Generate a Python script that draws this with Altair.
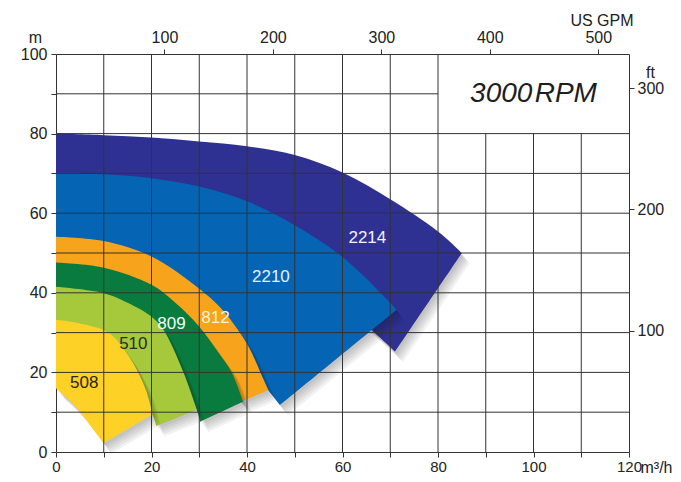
import altair as alt
import pandas as pd

# ---------------- data ----------------
series = ["2214", "2210", "812", "809", "510", "508"]          # back to front
colors = ["#2E3192", "#0565B4", "#F7A31B", "#0A7B3E", "#A6C83B", "#FDD126"]

# upper (max impeller) curves, left -> right end
q_2214_top = [0, 10, 20, 30, 40, 50, 60, 70, 80, 85]
h_2214_top = [80, 79.6, 79, 78, 76.8, 74.6, 70.2, 63.5, 55.4, 50]
q_2210_top = [0, 10, 20, 30, 40, 50, 60, 70, 71.3]
h_2210_top = [70, 69.8, 68.8, 66.7, 63, 57, 49, 37.5, 35.7]
q_812_top = [0, 10, 20, 30, 35, 40, 43, 44.5]
h_812_top = [54.1, 53, 49.1, 41, 35.5, 27.2, 19.5, 15.5]
q_809_top = [0, 10, 20, 25, 30, 34, 36.8, 39.2]
h_809_top = [47.6, 46.3, 42, 37.5, 31.5, 25, 20, 12.6]
q_510_top = [0, 10, 15, 20, 22.5, 26.7, 29.5]
h_510_top = [41.5, 39.9, 37.5, 34, 30.7, 20, 10.6]
q_508_top = [0, 5, 11, 14.7, 17.2, 19, 20.2]
h_508_top = [33.2, 32.3, 30, 25, 20, 15, 9.5]

# lower (min impeller) curves, end -> left
q_2214_low = [71, 66.5, 60, 50, 40, 30, 20, 10, 0]
h_2214_low = [25.2, 30.2, 37, 45, 52, 57, 60, 61.5, 62]
q_2210_low = [46.9, 44.6, 40, 35, 30, 20, 10, 0]
h_2210_low = [11.8, 15.3, 23, 30, 35, 42, 46, 47]
q_812_low = [38.8, 35, 28, 20, 10, 0]
h_812_low = [12.7, 18, 28, 35, 39, 40]
q_809_low = [30.2, 29.3, 26, 20, 10, 0]
h_809_low = [7.6, 11, 16, 22, 29, 32]
q_510_low = [21, 20.2, 17, 10, 0]
h_510_low = [6.5, 9.3, 14, 19, 24]
q_508_low = [10, 7, 4, 0]
h_508_low = [2.2, 7, 11.5, 16]

# model labels
label_q = [65.2, 45.0, 33.4, 24.2, 16.2, 5.9]
label_h = [53.8, 43.9, 33.6, 32.2, 27.1, 17.3]
label_colors = ["#F4F2FF", "#E6F2FF", "#FFF4D0", "#EFFFF5", "#2B2B1E", "#2B2410"]

# axes
x_ticks = list(range(0, 121, 10))
y_ticks = list(range(0, 101, 10))
gpm_ticks = [100, 200, 300, 400, 500]
ft_ticks = [100, 200, 300]
GPM_PER_M3H = 4.40287
FT_PER_M = 3.28084

# empty box with the speed caption
box_q = [80, 120]
box_h = [80, 100]
caption = "3000\u200aRPM"

# ---------------- build tables ----------------
tops = {"2214": (q_2214_top, h_2214_top), "2210": (q_2210_top, h_2210_top),
        "812": (q_812_top, h_812_top), "809": (q_809_top, h_809_top),
        "510": (q_510_top, h_510_top), "508": (q_508_top, h_508_top)}
lows = {"2214": (q_2214_low, h_2214_low), "2210": (q_2210_low, h_2210_low),
        "812": (q_812_low, h_812_low), "809": (q_809_low, h_809_low),
        "510": (q_510_low, h_510_low), "508": (q_508_low, h_508_low)}

rows = []
for s in series:
    tq, th = tops[s]
    lq, lh = lows[s]
    # repeat the two corner vertices so the spline keeps them sharp
    qs = tq + [tq[-1], lq[0]] + lq
    hs = th + [th[-1], lh[0]] + lh
    for i, (q, h) in enumerate(zip(qs, hs)):
        rows.append({"series": s, "i": i, "q": q, "h": h})
poly = pd.DataFrame(rows)

vgrid = pd.DataFrame({
    "q": x_ticks[1:-1],
    "h": [0] * (len(x_ticks) - 2),
    "h2": [box_h[0] if box_q[0] < x < box_q[1] else box_h[1] for x in x_ticks[1:-1]],
})
hgrid = pd.DataFrame({
    "h": y_ticks[1:-1],
    "q": [0] * (len(y_ticks) - 2),
    "q2": [box_q[0] if box_h[0] < y < box_h[1] else box_q[1] for y in y_ticks[1:-1]],
})
labels = pd.DataFrame({"q": label_q, "h": label_h, "text": series, "c": label_colors})
cap = pd.DataFrame({"q": [sum(box_q) / 2], "h": [sum(box_h) / 2], "text": [caption]})

FONT = "Liberation Sans"
X = alt.X("q:Q", scale=alt.Scale(domain=[0, 120], nice=False, zero=False),
          axis=alt.Axis(values=x_ticks, labelExpr="datum.value % 20 === 0 ? datum.label : ''",
                        labelFlush=False, tickSize=5, labelPadding=2, labelFontSize=15,
                        title="m\u00b3/h", titleX=584, titleY=20, titleAlign="left",
                        titleBaseline="alphabetic"))
Y = alt.Y("h:Q", scale=alt.Scale(domain=[0, 100], nice=False, zero=False),
          axis=alt.Axis(values=y_ticks, labelExpr="datum.value % 20 === 0 ? datum.label : ''",
                        tickSize=5, labelPadding=4,
                        title="m", titleAngle=0, titleX=-21, titleY=-12, titleAlign="center",
                        titleBaseline="alphabetic"))

layers = []
shadow_steps = [(2, 2.5), (3.5, 4.5), (5, 6.5), (6.5, 8.5), (8, 10.5)]
for s, col in zip(series, colors):
    base = alt.Chart(poly).transform_filter(alt.datum.series == s)
    for dx, dy in shadow_steps:
        layers.append(base.mark_line(fill="#1a1a1a", strokeWidth=0, opacity=0.055,
                                     interpolate="catmull-rom", xOffset=dx, yOffset=dy)
                      .encode(x=X, y=Y, order=alt.Order("i:Q")))
    layers.append(base.mark_line(fill=col, strokeWidth=0, interpolate="catmull-rom")
                  .encode(x=X, y=Y, order=alt.Order("i:Q")))

layers.append(alt.Chart(vgrid).mark_rule(color="#333333", strokeWidth=1)
              .encode(x=X, y=Y, y2="h2:Q"))
layers.append(alt.Chart(hgrid).mark_rule(color="#333333", strokeWidth=1)
              .encode(x=X, x2="q2:Q", y=Y))
layers.append(alt.Chart(labels).mark_text(font=FONT, fontSize=17, align="center",
                                          baseline="middle")
              .encode(x=X, y=Y, text="text:N", color=alt.Color("c:N", scale=None)))
layers.append(alt.Chart(cap).mark_text(font=FONT, fontSize=28, fontStyle="italic",
                                       align="center", baseline="middle", color="#1e1e1e")
              .encode(x=X, y=Y, text="text:N"))

main = alt.layer(*layers)

sec = alt.Chart(pd.DataFrame({"gpm": [0], "ft": [0]})).mark_point(opacity=0).encode(
    x=alt.X("gpm:Q", scale=alt.Scale(domain=[0, 120 * GPM_PER_M3H], nice=False, zero=False),
            axis=alt.Axis(orient="top", values=gpm_ticks, labelFlush=False, tickSize=5,
                          labelPadding=4, title="US GPM", titleX=577, titleY=-29,
                          titleAlign="right", titleBaseline="alphabetic")),
    y=alt.Y("ft:Q", scale=alt.Scale(domain=[0, 100 * FT_PER_M], nice=False, zero=False),
            axis=alt.Axis(orient="right", values=ft_ticks, tickSize=5, labelPadding=3,
                          title="ft", titleAngle=0, titleX=21, titleY=23,
                          titleAlign="center", titleBaseline="alphabetic")),
)

chart = (alt.layer(main, sec)
         .resolve_scale(x="independent", y="independent")
         .properties(width=573, height=398,
                     padding={"left": 48, "top": 46, "right": 44, "bottom": 22},
                     autosize=alt.AutoSizeParams(type="none"))
         .configure_view(strokeWidth=0)
         .configure_axis(labelFont=FONT, titleFont=FONT, labelFontSize=16, titleFontSize=16,
                         titleFontWeight="normal", labelColor="#222", titleColor="#222",
                         tickColor="#333", domainColor="#333", domainWidth=1, grid=False))

chart.save("out.html", embed_options={"renderer": "svg", "actions": False})
